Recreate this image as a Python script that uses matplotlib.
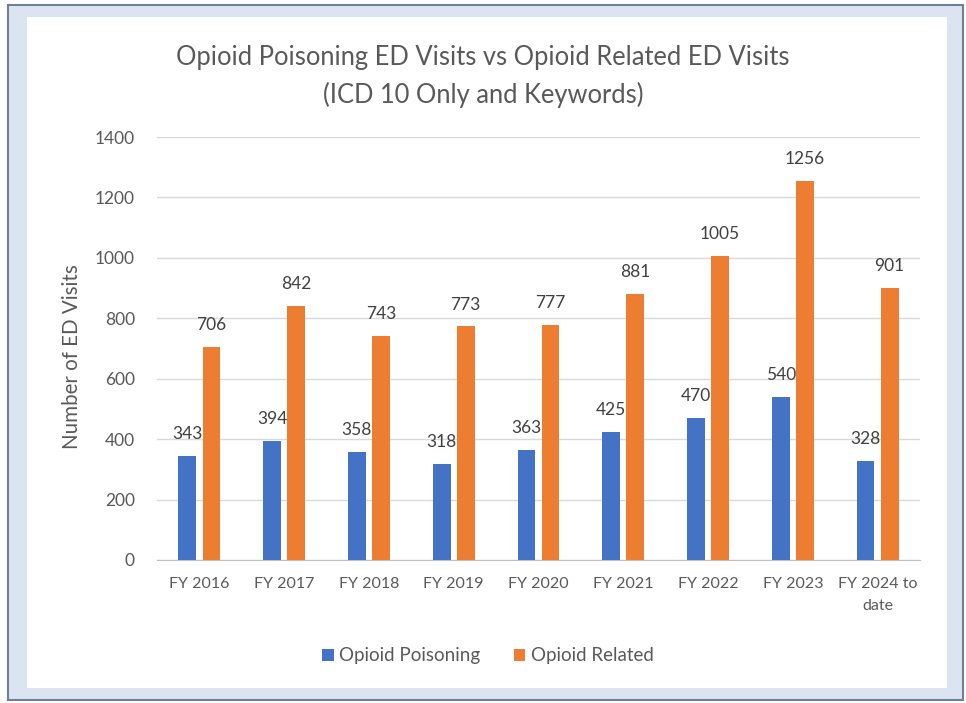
import matplotlib.pyplot as plt
import numpy as np
from matplotlib.patches import Rectangle

plt.rcParams["font.family"] = ["Lato", "DejaVu Sans"]

categories = ["FY 2016", "FY 2017", "FY 2018", "FY 2019", "FY 2020",
              "FY 2021", "FY 2022", "FY 2023", "FY 2024 to\ndate"]
poisoning = [343, 394, 358, 318, 363, 425, 470, 540, 328]
related = [706, 842, 743, 773, 777, 881, 1005, 1256, 901]
yticks = [0, 200, 400, 600, 800, 1000, 1200, 1400]

text_color = "#595959"
blue = "#4472C4"
orange = "#ED7D31"

fig = plt.figure(figsize=(9.66, 7.03), dpi=100)
W, H = 966, 703

# frame: dark outline, light blue band, white panel
fig.patches.append(Rectangle((8 / W, 1 - 700 / H), 955 / W, 695 / H,
                             transform=fig.transFigure, facecolor="#dbe5f1",
                             edgecolor="#6f7f95", linewidth=1.5, zorder=-3))
fig.patches.append(Rectangle((27 / W, 1 - 688 / H), 920 / W, 671 / H,
                             transform=fig.transFigure, facecolor="white",
                             edgecolor="none", zorder=-2))

ax = fig.add_axes([157 / W, 1 - 560 / H, 763 / W, 423 / H])
ax.set_facecolor("none")

x = np.arange(len(categories))
w = 0.21
off = 0.142
b1 = ax.bar(x - off, poisoning, w, color=blue, zorder=3, label="Opioid Poisoning")
b2 = ax.bar(x + off, related, w, color=orange, zorder=3, label="Opioid Related")

# value labels above bars
for bars, vals in [(b1, poisoning), (b2, related)]:
    for rect, v in zip(bars, vals):
        ax.annotate(str(v), (rect.get_x() + rect.get_width() / 2, v),
                    xytext=(0, 10), textcoords="offset points",
                    ha="center", va="bottom", fontsize=12.5, color="#404040")

ax.set_xlim(-0.5, len(categories) - 0.5)
ax.set_ylim(0, 1400)
ax.set_yticks(yticks)
ax.set_xticks(x)
ax.set_xticklabels(categories, fontsize=11.5, color=text_color, linespacing=1.75)
ax.tick_params(axis="y", labelsize=12.5, labelcolor=text_color, length=0, pad=16)
ax.tick_params(axis="x", length=0, pad=12)
ax.grid(axis="y", color="#d9d9d9", linewidth=1, zorder=0)
for s in ["top", "right", "left"]:
    ax.spines[s].set_visible(False)
ax.spines["bottom"].set_color("#bfbfbf")

fig.text(72 / W, 1 - 357 / H, "Number of ED Visits", rotation=90,
         ha="center", va="center", fontsize=14.8, color=text_color)

fig.text(0.5, 1 - 58 / H, "Opioid Poisoning ED Visits vs Opioid Related ED Visits",
         ha="center", va="center", fontsize=18.4, color=text_color)
fig.text(0.5, 1 - 95 / H, "(ICD 10 Only and Keywords)",
         ha="center", va="center", fontsize=18.4, color=text_color)

fig.legend(handles=[b1, b2], loc="center", bbox_to_anchor=(488 / W, 1 - 656 / H),
           ncol=2, frameon=False, fontsize=13.5, labelcolor=text_color,
           handlelength=0.6, handleheight=0.6, handletextpad=0.3, columnspacing=1.8)

fig.savefig("out.png", dpi=100)
